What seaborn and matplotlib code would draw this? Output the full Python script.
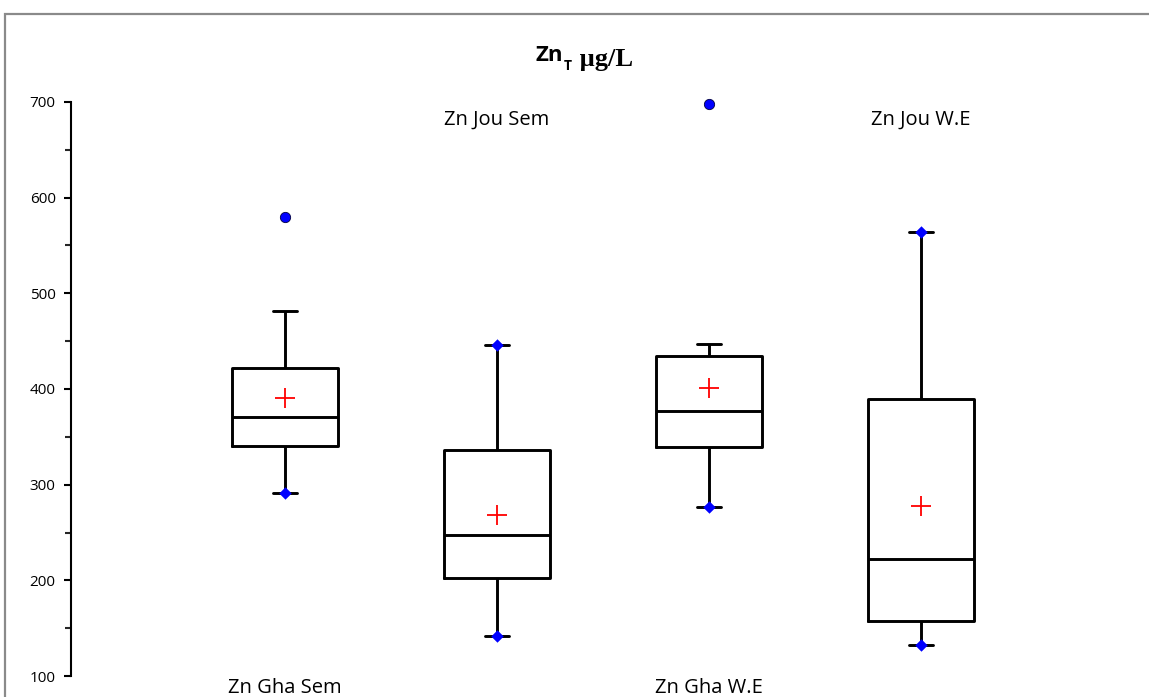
import matplotlib
matplotlib.use("Agg")
import matplotlib.pyplot as plt
import seaborn as sns
import pandas as pd
import numpy as np
from matplotlib.patches import Rectangle

# ---- data ----
groups = ["Zn Gha Sem", "Zn Jou Sem", "Zn Gha W.E", "Zn Jou W.E"]
mins = [291, 142, 277, 132]
q1s = [340, 202, 339, 157]
medians = [371, 247, 377, 222]
q3s = [422, 336, 435, 390]
whisker_hi = [482, 446, 447, 564]
means = [391, 268, 401, 278]
outliers = [[580], [], [698], []]
y_ticks = [100, 200, 300, 400, 500, 600, 700]
y_minor = [150, 250, 350, 450, 550, 650]

sns.set_theme(style="white")
plt.rcParams["font.family"] = ["Open Sans", "DejaVu Sans"]
plt.rcParams["text.color"] = "black"

fig = plt.figure(figsize=(11.49, 6.97), dpi=100)
ax = fig.add_axes([71 / 1149, 1 - 676 / 697, (1133 - 71) / 1149, (676 - 102) / 697])

# long-form table of the five-number summaries
rows = []
for g, a, b, c, d, e in zip(groups, mins, q1s, medians, q3s, whisker_hi):
    for v in (a, b, c, d, e):
        rows.append({"group": g, "value": v})
df = pd.DataFrame(rows)

sns.boxplot(data=df, x="group", y="value", order=groups, ax=ax,
            whis=(0, 100), width=0.5, fill=False, color="black",
            linewidth=2.1, showfliers=False, capwidths=0.115)

pos = np.arange(len(groups))

# means
sns.scatterplot(x=pos, y=means, marker="+", s=200, color="red",
                linewidth=1.3, ax=ax, zorder=5, legend=False)

# minimum / maximum markers (diamonds)
dx, dy = [], []
for i in range(len(groups)):
    dx.append(pos[i]); dy.append(mins[i])
    if not outliers[i]:
        dx.append(pos[i]); dy.append(whisker_hi[i])
sns.scatterplot(x=dx, y=dy, marker="D", s=40, color="#0000FF",
                edgecolor="#0000FF", linewidth=0, ax=ax, zorder=5, legend=False)

# outliers
ox, oy = [], []
for i, vals in enumerate(outliers):
    for v in vals:
        ox.append(pos[i]); oy.append(v)
sns.scatterplot(x=ox, y=oy, marker="o", s=55, color="#0000FF",
                edgecolor="#000040", linewidth=0.6, ax=ax, zorder=5,
                legend=False)
for coll in ax.collections:
    coll.set_clip_on(False)

ax.set_xlim(-1.01, 4.0)
ax.set_ylim(100, 700)
ax.set_yticks(y_ticks)
ax.set_yticks(y_minor, minor=True)
ax.set_xticks([])
ax.set_xlabel("")
ax.set_ylabel("")
for s in ["top", "right", "bottom"]:
    ax.spines[s].set_visible(False)
ax.spines["left"].set_color("black")
ax.spines["left"].set_linewidth(1.5)
ax.tick_params(axis="y", which="major", direction="out", length=5, width=1.5,
               left=True, labelsize=11, colors="black", pad=6)
ax.tick_params(axis="y", which="minor", direction="out", length=4, width=1.5,
               left=True)

# alternating category labels
for i, g in enumerate(groups):
    yv = 87.5 if i % 2 == 0 else 681
    ax.text(pos[i], yv, g, ha="center", va="center", fontsize=14.5,
            color="black", clip_on=False)

# title: Zn_T µg/L
t1 = fig.text(536 / 1149, 1 - 61 / 697, "Zn", fontsize=16, fontweight="bold",
              family=["Open Sans", "DejaVu Sans"], va="baseline", ha="left",
              color="black")
t2 = ax.annotate("T", xy=(1, 0), xycoords=t1, xytext=(0.5, -3),
                 textcoords="offset points", fontsize=10, fontweight="bold",
                 family=["Open Sans", "DejaVu Sans"], va="baseline", ha="left",
                 annotation_clip=False, color="black")
t3 = ax.annotate(" \u00b5g/L", xy=(1, 0), xycoords=t1, xytext=(7, 0),
                 textcoords="offset points", fontsize=19, fontweight="bold",
                 family=["Liberation Serif", "DejaVu Serif"], va="baseline",
                 ha="left", annotation_clip=False, color="black")

# outer grey frame (only top and left edges visible)
fig.patches.append(Rectangle((4.5 / 1149, -0.2), 1.5, 0.2 + 1 - 13.5 / 697,
                             transform=fig.transFigure, fill=False,
                             edgecolor="#8a8a8a", linewidth=1.6))

fig.savefig("out.png", dpi=100)
